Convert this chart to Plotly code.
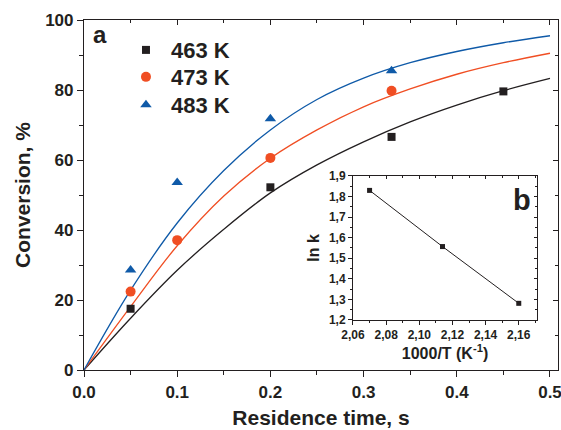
import plotly.graph_objects as go

# ---- data ----
t_pts_463 = [0.05, 0.2, 0.33, 0.45]
x_pts_463 = [17.5, 52.2, 66.6, 79.6]
t_pts_473 = [0.05, 0.1, 0.2, 0.33]
x_pts_473 = [22.4, 37.1, 60.6, 79.8]
t_pts_483 = [0.05, 0.1, 0.2, 0.33]
x_pts_483 = [28.6, 53.6, 71.8, 85.5]

t_curve = [0, 0.05, 0.1, 0.15, 0.2, 0.25, 0.3, 0.35, 0.4, 0.45, 0.5]
fit_463 = [0, 14.8, 28.5, 40.2, 50.6, 58.6, 65.2, 70.9, 75.7, 79.8, 83.3]
fit_473 = [0, 18.1, 35.5, 49.7, 60.5, 68.6, 75.2, 80.3, 84.5, 87.8, 90.5]
fit_483 = [0, 22.8, 42.0, 57.0, 68.6, 77.3, 83.4, 87.8, 91.0, 93.5, 95.5]

inv_T = [2.070, 2.114, 2.160]
ln_k = [1.830, 1.557, 1.281]

labels = ["463 K", "473 K", "483 K"]
inset_xticks = [2.06, 2.08, 2.10, 2.12, 2.14, 2.16]
inset_xtext = ["2,06", "2,08", "2,10", "2,12", "2,14", "2,16"]
inset_yticks = [1.2, 1.3, 1.4, 1.5, 1.6, 1.7, 1.8, 1.9]
inset_ytext = ["1,2", "1,3", "1,4", "1,5", "1,6", "1,7", "1,8", "1,9"]

BLACK = "#231f20"
RED = "#f04e23"
BLUE = "#0f5aa8"
FONT = "Liberation Sans"

fig = go.Figure()

# fit curves
for t, y, c in [(t_curve, fit_463, BLACK), (t_curve, fit_473, RED), (t_curve, fit_483, BLUE)]:
    fig.add_trace(go.Scatter(x=t, y=y, mode="lines", line=dict(color=c, width=1.3, shape="spline"),
                             showlegend=False, hoverinfo="skip"))

# data points (each in its own legend box so rows can be spaced like the original)
fig.add_trace(go.Scatter(x=t_pts_463, y=x_pts_463, mode="markers", name=labels[0], legend="legend",
                         marker=dict(symbol="square", size=8, color=BLACK)))
fig.add_trace(go.Scatter(x=t_pts_473, y=x_pts_473, mode="markers", name=labels[1], legend="legend2",
                         marker=dict(symbol="circle", size=10, color=RED)))
fig.add_trace(go.Scatter(x=t_pts_483, y=x_pts_483, mode="markers", name=labels[2], legend="legend3",
                         marker=dict(symbol="triangle-up", size=10, color=BLUE)))

# dummy traces for mirror axes
fig.add_trace(go.Scatter(x=[None], y=[None], xaxis="x2", yaxis="y2", showlegend=False, hoverinfo="skip"))
fig.add_trace(go.Scatter(x=[None], y=[None], xaxis="x4", yaxis="y4", showlegend=False, hoverinfo="skip"))

# inset
fig.add_trace(go.Scatter(x=inv_T, y=ln_k, mode="lines+markers", xaxis="x3", yaxis="y3",
                         line=dict(color=BLACK, width=1),
                         marker=dict(symbol="square", size=5, color=BLACK),
                         showlegend=False, hoverinfo="skip"))

XR = [0, 0.5086]
YR = [0, 100]
IXR = [2.06, 2.171]
IYR = [1.2, 1.9]
ixd = [0.5675, 0.9557]
iyd = [0.1429, 0.5543]

tickfont = dict(family=FONT, size=17, color=BLACK, weight="bold")
itickfont = dict(family=FONT, size=12, color=BLACK, weight="bold")
legfont = dict(family=FONT, size=22, color=BLACK, weight="bold")


def leg(yc):
    return dict(x=0.078, y=yc, xanchor="left", yanchor="middle", bgcolor="rgba(0,0,0,0)",
                font=legfont, itemwidth=40)


fig.update_layout(
    width=561, height=430,
    margin=dict(l=84, r=3, t=20, b=60),
    paper_bgcolor="white", plot_bgcolor="white",
    font=dict(family=FONT, color=BLACK),
    xaxis=dict(range=XR, domain=[0, 1], showgrid=False, zeroline=False, automargin=False,
               showline=True, linecolor=BLACK, linewidth=1.2, mirror=True,
               ticks="outside", ticklen=6, tickwidth=1.2, tickcolor=BLACK,
               tick0=0, dtick=0.1, tickformat=".1f", tickfont=tickfont, ticklabeloverflow="allow",
               minor=dict(ticks="outside", ticklen=4, tickwidth=1.2, tickcolor=BLACK, dtick=0.05),
               title=dict(text="Residence time, s", font=dict(family=FONT, size=21, weight="bold"), standoff=9)),
    yaxis=dict(range=YR, domain=[0, 1], showgrid=False, zeroline=False, automargin=False,
               showline=True, linecolor=BLACK, linewidth=1.2, mirror=True,
               ticks="outside", ticklen=6, tickwidth=1.2, tickcolor=BLACK,
               tick0=0, dtick=20, tickfont=tickfont, ticklabeloverflow="allow",
               minor=dict(ticks="outside", ticklen=4, tickwidth=1.2, tickcolor=BLACK, dtick=10),
               title=dict(text="Conversion, %", font=dict(family=FONT, size=21, weight="bold"), standoff=8)),
    xaxis2=dict(range=XR, overlaying="x", side="top", showgrid=False, zeroline=False, automargin=False,
                showline=False, ticks="inside", ticklen=5, tickwidth=1, tickcolor=BLACK,
                tick0=0, dtick=0.1, showticklabels=False,
                minor=dict(ticks="inside", ticklen=3, tickwidth=1, tickcolor=BLACK, dtick=0.05)),
    yaxis2=dict(range=YR, overlaying="y", side="right", showgrid=False, zeroline=False, automargin=False,
                showline=False, ticks="inside", ticklen=5, tickwidth=1, tickcolor=BLACK,
                tick0=0, dtick=20, showticklabels=False,
                minor=dict(ticks="inside", ticklen=3, tickwidth=1, tickcolor=BLACK, dtick=10)),
    xaxis3=dict(range=IXR, domain=ixd, anchor="y3", showgrid=False, zeroline=False, automargin=False,
                showline=True, linecolor=BLACK, linewidth=1, mirror=True,
                ticks="outside", ticklen=4, tickwidth=1, tickcolor=BLACK,
                tickvals=inset_xticks, ticktext=inset_xtext, tickfont=itickfont,
                minor=dict(ticks="outside", ticklen=2, tickwidth=1, tickcolor=BLACK, dtick=0.01, tick0=2.06),
                title=dict(text="1000/T (K<sup>-1</sup>)", font=dict(family=FONT, size=16, weight="bold"), standoff=6)),
    yaxis3=dict(range=IYR, domain=iyd, anchor="x3", showgrid=False, zeroline=False, automargin=False,
                showline=True, linecolor=BLACK, linewidth=1, mirror=True,
                ticks="outside", ticklen=4, tickwidth=1, tickcolor=BLACK,
                tickvals=inset_yticks, ticktext=inset_ytext, tickfont=itickfont,
                minor=dict(ticks="outside", ticklen=2, tickwidth=1, tickcolor=BLACK, dtick=0.05, tick0=1.2),
                title=dict(text="ln k", font=dict(family=FONT, size=16, weight="bold"), standoff=5)),
    xaxis4=dict(range=IXR, overlaying="x3", side="top", anchor="y4", showgrid=False, zeroline=False, automargin=False,
                showline=False, ticks="inside", ticklen=3, tickwidth=1, tickcolor=BLACK,
                tickvals=inset_xticks, showticklabels=False,
                minor=dict(ticks="inside", ticklen=2, tickwidth=1, tickcolor=BLACK, dtick=0.01, tick0=2.06)),
    yaxis4=dict(range=IYR, overlaying="y3", side="right", anchor="x4", showgrid=False, zeroline=False, automargin=False,
                showline=False, ticks="inside", ticklen=3, tickwidth=1, tickcolor=BLACK,
                tickvals=inset_yticks, showticklabels=False,
                minor=dict(ticks="inside", ticklen=2, tickwidth=1, tickcolor=BLACK, dtick=0.05, tick0=1.2)),
    legend=leg(0.914),
    legend2=leg(0.837),
    legend3=leg(0.757),
    annotations=[
        dict(text="a", x=0.015, y=1.003, xref="paper", yref="paper", xanchor="left", yanchor="top",
             showarrow=False, font=dict(family=FONT, size=24, color=BLACK, weight="bold")),
        dict(text="b", x=0.947, y=0.537, xref="paper", yref="paper", xanchor="right", yanchor="top",
             showarrow=False, font=dict(family=FONT, size=29, color=BLACK, weight="bold")),
    ],
)

fig.write_html("out.html", config={"displayModeBar": False},
               post_script="document.body.style.margin='0';document.body.style.padding='0';")
